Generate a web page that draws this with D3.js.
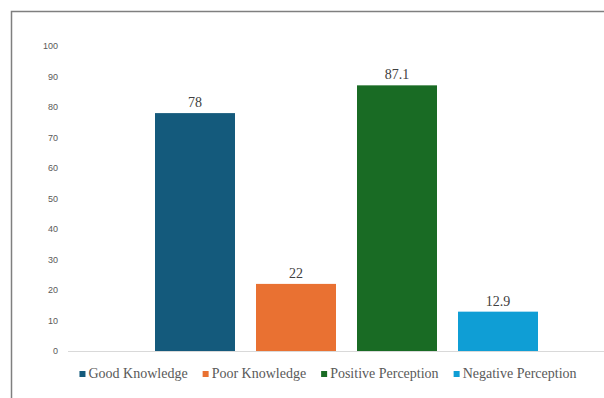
<!DOCTYPE html>
<html><head><meta charset="utf-8">
<script src="https://cdn.jsdelivr.net/npm/d3@7"></script>
<style>body{margin:0;background:#fff}svg{display:block}
.serif{font-family:"Liberation Serif","Times New Roman","DejaVu Serif",serif}
.sans{font-family:"Liberation Sans",Arial,sans-serif}</style>
</head><body>
<script>
const categories = ["Good Knowledge","Poor Knowledge","Positive Perception","Negative Perception"];
const values = [78, 22, 87.1, 12.9];
const valueLabels = ["78","22","87.1","12.9"];
const colors = ["#145a7c","#e97132","#196b24","#0f9ed5"];
const yTicks = [0,10,20,30,40,50,60,70,80,90,100];

const W = 604, H = 398;
const svg = d3.select("body").append("svg").attr("width", W).attr("height", H);

svg.append("path").attr("d", `M11.5,${H} V11.5 H${W}`).attr("fill","none").attr("stroke","#7f7f7f").attr("stroke-width",1.5);

const y = d3.scaleLinear().domain([0,100]).range([351,46]);
const x = d3.scaleBand().domain(categories).range([155,538]).paddingInner(0.208).paddingOuter(0);

svg.append("line").attr("x1",68).attr("x2",W).attr("y1",y(0)+0.5).attr("y2",y(0)+0.5).attr("stroke","#d9d9d9").attr("stroke-width",1);

const yAxis = d3.axisLeft(y).tickValues(yTicks).tickSize(0).tickPadding(0);
const gy = svg.append("g").attr("transform","translate(58,0)").call(yAxis);
gy.select(".domain").remove();
gy.attr("font-family",null).attr("font-size",null);
gy.selectAll("text").attr("class","sans").style("font-size","9px").attr("fill","#595959");

svg.selectAll("rect.bar").data(categories).join("rect").attr("class","bar")
  .attr("x", d => x(d)).attr("width", x.bandwidth())
  .attr("y", (d,i) => y(values[i])).attr("height", (d,i) => y(0) - y(values[i]))
  .attr("fill", (d,i) => colors[i]);

svg.selectAll("text.val").data(categories).join("text").attr("class","val serif")
  .attr("x", d => x(d) + x.bandwidth()/2).attr("y", (d,i) => y(values[i]) - 6)
  .attr("text-anchor","middle").style("font-size","14px").attr("fill","#404040").text((d,i) => valueLabels[i]);

const legend = svg.append("g").attr("transform","translate(0,378)");
const items = legend.selectAll("g").data(categories).join("g");
items.append("rect").attr("width",6).attr("height",6).attr("y",-7).attr("fill",(d,i)=>colors[i]);
items.append("text").attr("class","serif").attr("x",9).attr("y",0).style("font-size","14px").attr("fill","#595959").text(d=>d);
let widths = [];
items.each(function(){ widths.push(this.getBBox().width); });
const gap = 15;
const total = d3.sum(widths) + gap*(widths.length-1);
let cx = 328 - total/2;
items.attr("transform",(d,i)=>{ const t = `translate(${cx},0)`; cx += widths[i] + gap; return t; });
</script>
</body></html>
